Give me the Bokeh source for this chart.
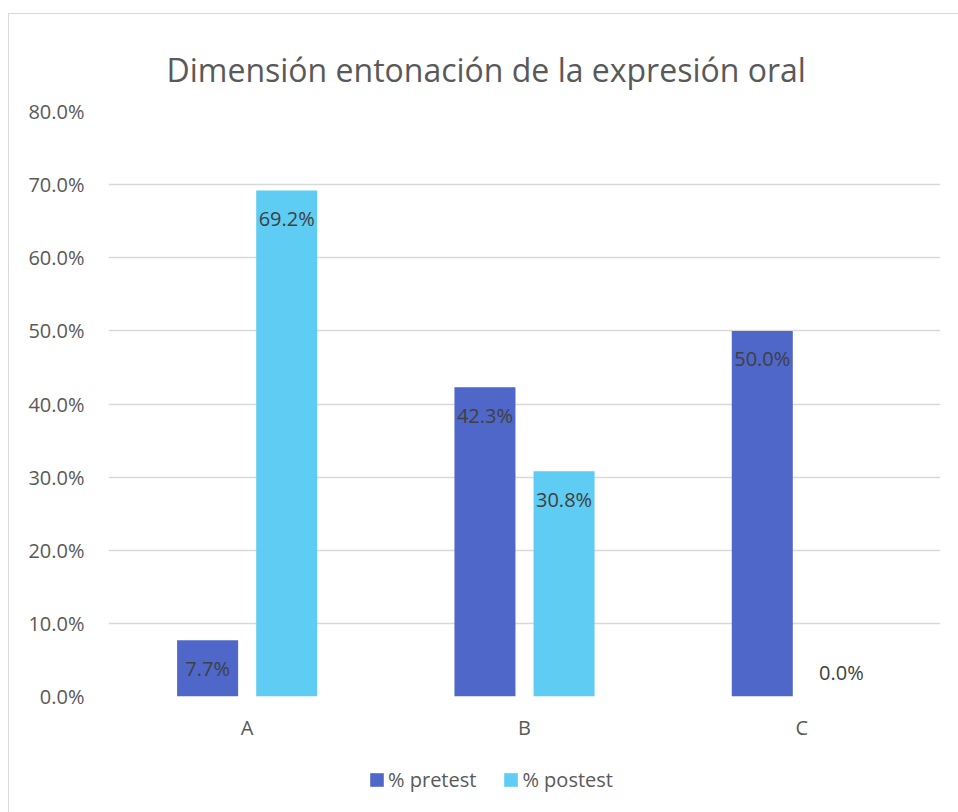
from bokeh.plotting import figure
from bokeh.layouts import column
from bokeh.models import ColumnDataSource, Legend, LegendItem, NumeralTickFormatter, FixedTicker, Range1d
from bokeh.transform import dodge
from bokeh.core.properties import value
from bokeh.embed import file_html
from bokeh.resources import INLINE

categories = ["A", "B", "C"]
pretest = [0.077, 0.423, 0.500]
postest = [0.692, 0.308, 0.000]
pre_labels = ["7.7%", "42.3%", "50.0%"]
post_labels = ["69.2%", "30.8%", "0.0%"]
y_ticks = [0.0, 0.1, 0.2, 0.3, 0.4, 0.5, 0.6, 0.7, 0.8]
series_names = ["% pretest", "% postest"]

title_text = "Dimensión entonación de la expresión oral"
FONT = "Open Sans"
PRE_COLOR = "#4E67C8"
POST_COLOR = "#5ECCF3"

src = ColumnDataSource(dict(
    cat=categories, pre=pretest, post=postest,
    pre_lab=pre_labels, post_lab=post_labels,
    pre_off=[28 if v > 0 else -24 for v in pretest],
    post_off=[28 if v > 0 else -24 for v in postest],
))

p = figure(x_range=categories, y_range=(0, 0.8), width=950, height=737,
           output_backend="svg", toolbar_location=None,
           min_border_left=99, min_border_right=19, min_border_top=97, min_border_bottom=55)
p.outline_line_color = None
p.background_fill_color = "white"
p.border_fill_color = "white"

off = 0.1426
bw = 0.22
p.vbar(x=dodge("cat", -off, range=p.x_range), top="pre", width=bw, source=src,
       fill_color=PRE_COLOR, line_color=None)
p.vbar(x=dodge("cat", off, range=p.x_range), top="post", width=bw, source=src,
       fill_color=POST_COLOR, line_color=None)

p.text(x=dodge("cat", -off, range=p.x_range), y="pre", text="pre_lab", source=src,
       y_offset="pre_off", text_align="center", text_baseline="middle",
       text_font=value(FONT), text_font_size="20px", text_color="#404040")
p.text(x=dodge("cat", off, range=p.x_range), y="post", text="post_lab", source=src,
       y_offset="post_off", text_align="center", text_baseline="middle",
       text_font=value(FONT), text_font_size="20px", text_color="#404040")

# axes
p.yaxis.ticker = FixedTicker(ticks=y_ticks)
p.yaxis.formatter = NumeralTickFormatter(format="0.0%")
for ax in (p.xaxis[0], p.yaxis[0]):
    ax.axis_line_color = None
    ax.major_tick_line_color = None
    ax.minor_tick_line_color = None
    ax.major_label_text_font = FONT
    ax.major_label_text_font_size = "20px"
    ax.major_label_text_color = "#595959"
p.yaxis.major_label_standoff = 18
p.xaxis.major_label_standoff = 11

p.xgrid.grid_line_color = None
p.ygrid.grid_line_color = "#D9D9D9"
p.ygrid.grid_line_width = 1.3
p.ygrid.ticker = FixedTicker(ticks=y_ticks)

# title
p.title.text = title_text
p.title.align = "left"
p.title.text_font = FONT
p.title.text_font_style = "normal"
p.title.text_font_size = "32px"
p.title.text_color = "#595959"
p.title.offset = 58
p.title.standoff = 41

# legend strip below the chart (its frame is aligned with the chart's frame)
q = figure(width=950, height=62, x_range=Range1d(0, 1), y_range=Range1d(0, 1),
           output_backend="svg", toolbar_location=None,
           x_axis_location=None, y_axis_location=None,
           min_border_left=0, min_border_right=0, min_border_top=0, min_border_bottom=0)
q.grid.visible = False
q.outline_line_color = None
helper = ColumnDataSource(dict(x=[-5], top=[0]))
l1 = q.vbar(x="x", top="top", width=0.1, source=helper, fill_color=PRE_COLOR, line_color=None)
l2 = q.vbar(x="x", top="top", width=0.1, source=helper, fill_color=POST_COLOR, line_color=None)
legend = Legend(items=[LegendItem(label=series_names[0], renderers=[l1]),
                       LegendItem(label=series_names[1], renderers=[l2])],
                orientation="horizontal", location=(260, 20),
                label_text_font=FONT, label_text_font_size="20px", label_text_color="#595959",
                glyph_width=17, glyph_height=17, spacing=26, label_standoff=3,
                padding=0, margin=0,
                border_line_color=None, background_fill_alpha=0)
q.add_layout(legend, "center")

layout = column(p, q, spacing=0)
layout.styles = {"margin-left": "8px", "margin-top": "13px",
                 "border-left": "1px solid #D9D9D9", "border-top": "1px solid #D9D9D9"}

open("out.html", "w").write(file_html(layout, INLINE))
